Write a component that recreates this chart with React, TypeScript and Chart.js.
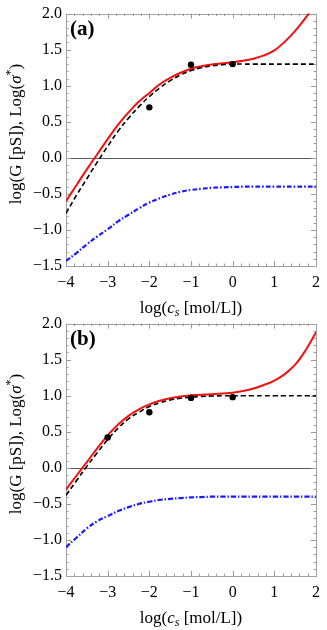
import React, { useEffect, useRef } from "react";
import { Chart, registerables } from "chart.js";

Chart.register(...registerables);

// shared x sample positions: log(c_s)
const XS = [-4, -3.75, -3.5, -3.25, -3, -2.75, -2.5, -2.25, -2, -1.75, -1.5, -1.25, -1, -0.75, -0.5, -0.25, 0, 0.25, 0.5, 0.75, 1, 1.25, 1.5, 1.75, 2];

// panel (a)
const RED_A = [-0.6, -0.38, -0.16, 0.05, 0.26, 0.46, 0.63, 0.78, 0.9, 1.02, 1.11, 1.18, 1.235, 1.27, 1.295, 1.31, 1.325, 1.345, 1.375, 1.42, 1.49, 1.61, 1.76, 1.94, 2.15];
const BLACK_A = [-0.77, -0.52, -0.29, -0.06, 0.16, 0.37, 0.55, 0.71, 0.85, 0.97, 1.07, 1.15, 1.21, 1.25, 1.275, 1.29, 1.3, 1.3, 1.3, 1.3, 1.3, 1.3, 1.3, 1.3, 1.3];
const BLUE_A = [-1.43, -1.32, -1.2, -1.09, -0.99, -0.88, -0.79, -0.7, -0.62, -0.56, -0.51, -0.47, -0.445, -0.43, -0.415, -0.41, -0.405, -0.4, -0.4, -0.4, -0.4, -0.4, -0.4, -0.4, -0.4];
const DOTS_A_X = [-2, -1, 0];
const DOTS_A_Y = [0.7, 1.29, 1.3];

// panel (b)
const RED_B = [-0.3, -0.11, 0.08, 0.27, 0.45, 0.6, 0.72, 0.81, 0.88, 0.93, 0.965, 0.99, 1.005, 1.015, 1.02, 1.03, 1.04, 1.065, 1.1, 1.15, 1.21, 1.3, 1.43, 1.63, 1.88];
const BLACK_B = [-0.38, -0.18, 0.02, 0.21, 0.39, 0.55, 0.68, 0.77, 0.85, 0.9, 0.94, 0.965, 0.98, 0.99, 0.995, 1, 1, 1, 1, 1, 1, 1, 1, 1, 1];
const BLUE_B = [-1.1, -0.97, -0.84, -0.74, -0.67, -0.6, -0.545, -0.5, -0.47, -0.445, -0.43, -0.42, -0.41, -0.405, -0.4, -0.4, -0.4, -0.4, -0.4, -0.4, -0.4, -0.4, -0.4, -0.4, -0.4];
const DOTS_B_X = [-3, -2, -1, 0];
const DOTS_B_Y = [0.42, 0.77, 0.97, 0.98];

const X_MIN = -4, X_MAX = 2, X_STEP = 1, X_MINOR = 0.2;
const Y_MIN = -1.5, Y_MAX = 2, Y_STEP = 0.5, Y_MINOR = 0.1;

const SERIF = "'Liberation Serif', 'DejaVu Serif', serif";

const fmt = (v: number, d: number) => (v < -1e-9 ? "\u2212" : "") + Math.abs(v).toFixed(d);

type Seg = { t: string; font: string; dy?: number };

function drawRich(ctx: CanvasRenderingContext2D, segs: Seg[], cx: number, y: number) {
  let total = 0;
  const widths = segs.map((s) => {
    ctx.font = s.font;
    const w = ctx.measureText(s.t).width;
    total += w;
    return w;
  });
  let x = cx - total / 2;
  ctx.textAlign = "left";
  ctx.textBaseline = "alphabetic";
  segs.forEach((s, i) => {
    ctx.font = s.font;
    ctx.fillText(s.t, x, y + (s.dy || 0));
    x += widths[i];
  });
}

function makePlugin(label: string) {
  return {
    id: "mmaFrame",
    beforeDatasetsDraw(chart: any) {
      const ctx = chart.ctx as CanvasRenderingContext2D;
      const { left, right, top, bottom } = chart.chartArea;
      const xs = chart.scales.x;
      const ys = chart.scales.y;
      ctx.save();
      // zero line
      const y0 = Math.round(ys.getPixelForValue(0)) + 0.5;
      ctx.strokeStyle = "#5a5a5a";
      ctx.lineWidth = 1;
      ctx.beginPath();
      ctx.moveTo(left, y0);
      ctx.lineTo(right, y0);
      ctx.stroke();
      // ticks
      ctx.strokeStyle = "#9a9a9a";
      ctx.beginPath();
      const nx = Math.round((X_MAX - X_MIN) / X_MINOR);
      for (let i = 0; i <= nx; i++) {
        const v = X_MIN + i * X_MINOR;
        const major = i % Math.round(X_STEP / X_MINOR) === 0;
        const len = major ? 5 : 2.5;
        const px = Math.round(xs.getPixelForValue(v)) + 0.5;
        ctx.moveTo(px, bottom);
        ctx.lineTo(px, bottom - len);
        ctx.moveTo(px, top);
        ctx.lineTo(px, top + len);
      }
      const ny = Math.round((Y_MAX - Y_MIN) / Y_MINOR);
      for (let i = 0; i <= ny; i++) {
        const v = Y_MIN + i * Y_MINOR;
        const major = i % Math.round(Y_STEP / Y_MINOR) === 0;
        const len = major ? 5 : 2.5;
        const py = Math.round(ys.getPixelForValue(v)) + 0.5;
        ctx.moveTo(left, py);
        ctx.lineTo(left + len, py);
        ctx.moveTo(right, py);
        ctx.lineTo(right - len, py);
      }
      ctx.stroke();
      // frame
      ctx.strokeStyle = "#a0a0a0";
      ctx.strokeRect(Math.round(left) + 0.5, Math.round(top) + 0.5, Math.round(right - left), Math.round(bottom - top));
      ctx.restore();
    },
    afterDraw(chart: any) {
      const ctx = chart.ctx as CanvasRenderingContext2D;
      const { left, right, top } = chart.chartArea;
      ctx.save();
      ctx.fillStyle = "#000";
      const reg = `17px ${SERIF}`;
      const it = `italic 17px ${SERIF}`;
      const sub = `italic 12px ${SERIF}`;
      // x title
      drawRich(
        ctx,
        [
          { t: "log(", font: reg },
          { t: "c", font: it },
          { t: "s", font: sub, dy: 3 },
          { t: " [mol/L])", font: reg },
        ],
        (left + right) / 2,
        313
      );
      // y title (rotated)
      ctx.save();
      ctx.translate(21, 134);
      ctx.rotate(-Math.PI / 2);
      drawRich(
        ctx,
        [
          { t: "log(G [pS]), Log(", font: reg },
          { t: "\u03c3", font: it },
          { t: "*", font: `12px ${SERIF}`, dy: -7 },
          { t: ")", font: reg },
        ],
        0,
        0
      );
      ctx.restore();
      // panel label
      ctx.font = `bold 21px ${SERIF}`;
      ctx.textAlign = "left";
      ctx.textBaseline = "alphabetic";
      ctx.fillText(label, left + 4, top + 21);
      ctx.restore();
    },
  };
}

function toPts(xs: number[], ys: number[]) {
  return xs.map((x, i) => ({ x, y: ys[i] }));
}

function Panel(props: {
  label: string;
  red: number[];
  black: number[];
  blue: number[];
  dotsX: number[];
  dotsY: number[];
  top: number;
}) {
  const ref = useRef<HTMLCanvasElement | null>(null);
  useEffect(() => {
    if (!ref.current) return;
    const tickFont = { family: SERIF, size: 16 };
    const chart = new Chart(ref.current, {
      type: "scatter",
      data: {
        datasets: [
          {
            data: toPts(props.dotsX, props.dotsY),
            pointRadius: 3.2,
            pointBackgroundColor: "#000",
            pointBorderWidth: 0,
            showLine: false,
            order: 0,
          } as any,
          {
            data: toPts(XS, props.black),
            showLine: true,
            borderColor: "#000",
            borderWidth: 1.6,
            borderDash: [5, 3],
            pointRadius: 0,
            tension: 0.4,
            order: 1,
          },
          {
            data: toPts(XS, props.red),
            showLine: true,
            borderColor: "#f21111",
            borderWidth: 2,
            pointRadius: 0,
            tension: 0.4,
            order: 2,
          },
          {
            data: toPts(XS, props.blue),
            showLine: true,
            borderColor: "#1a1aff",
            borderWidth: 2.2,
            borderDash: [5, 2, 1.5, 2],
            pointRadius: 0,
            tension: 0.4,
            order: 3,
          },
        ],
      },
      options: {
        responsive: false,
        animation: false,
        devicePixelRatio: 1,
        layout: { padding: { left: 0, right: 7, top: 13, bottom: 0 } },
        plugins: { legend: { display: false }, tooltip: { enabled: false } },
        scales: {
          x: {
            type: "linear",
            min: X_MIN,
            max: X_MAX,
            ticks: {
              stepSize: X_STEP,
              font: tickFont,
              color: "#000",
              padding: 7,
              maxRotation: 0,
              callback: (v: any) => fmt(Number(v), 0),
            },
            grid: { display: false, drawTicks: false },
            border: { display: false },
            afterFit: (s: any) => {
              s.height = 54;
            },
          },
          y: {
            type: "linear",
            min: Y_MIN,
            max: Y_MAX,
            ticks: {
              stepSize: Y_STEP,
              font: tickFont,
              color: "#000",
              padding: 4,
              callback: (v: any) => fmt(Number(v), 1),
            },
            grid: { display: false, drawTicks: false },
            border: { display: false },
            afterFit: (s: any) => {
              s.width = 66;
            },
          },
        },
      },
      plugins: [makePlugin(props.label)],
    } as any);
    return () => chart.destroy();
  }, []);
  return (
    <canvas
      ref={ref}
      width={327}
      height={320}
      style={{ position: "absolute", left: 0, top: props.top, display: "block", width: 327, height: 320 }}
    />
  );
}

export default function App() {
  return (
    <div style={{ position: "absolute", left: 0, top: 0, width: 327, height: 630, background: "#fff", overflow: "hidden" }}>
      <Panel label="(a)" red={RED_A} black={BLACK_A} blue={BLUE_A} dotsX={DOTS_A_X} dotsY={DOTS_A_Y} top={0} />
      <Panel label="(b)" red={RED_B} black={BLACK_B} blue={BLUE_B} dotsX={DOTS_B_X} dotsY={DOTS_B_Y} top={310} />
    </div>
  );
}
